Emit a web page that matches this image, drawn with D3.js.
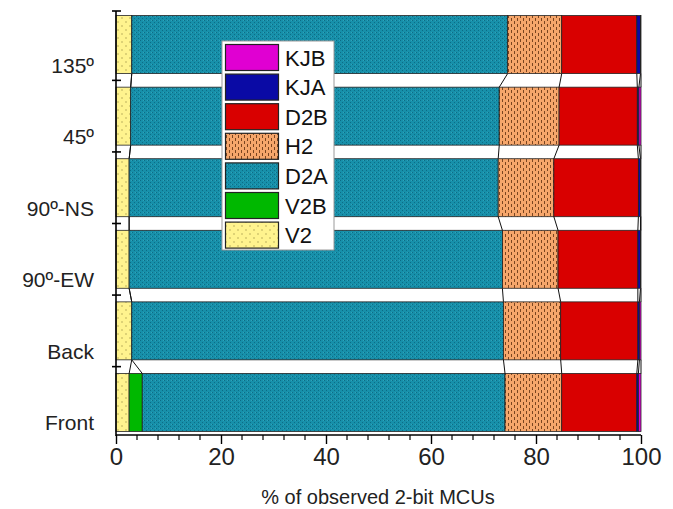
<!DOCTYPE html>
<html><head><meta charset="utf-8">
<script src="https://cdn.jsdelivr.net/npm/d3@7"></script>
<style>
body{margin:0;background:#fff}
svg{display:block;font-family:"Liberation Sans",Arial,Helvetica,sans-serif}
</style>
</head><body>
<svg id="chart" width="673" height="509"></svg>
<script>
// Share of observed 2-bit MCUs per irradiation orientation
const categories = ["135º", "45º", "90º-NS", "90º-EW", "Back", "Front"];
const seriesNames = ["V2", "V2B", "D2A", "H2", "D2B", "KJA", "KJB"];
const V2  = [3.0, 2.8, 2.5, 2.5, 3.0, 2.5];
const V2B = [0.0, 0.0, 0.0, 0.0, 0.0, 2.5];
const D2A = [71.6, 70.2, 70.3, 71.1, 70.8, 69.1];
const H2  = [10.3, 11.4, 10.6, 10.6, 10.9, 10.8];
const D2B = [14.3, 14.9, 16.1, 15.2, 14.7, 14.3];
const KJA = [0.7, 0.3, 0.4, 0.5, 0.3, 0.3];
const KJB = [0.1, 0.4, 0.1, 0.1, 0.3, 0.5];
const xTicks = [0, 20, 40, 60, 80, 100];
const xTitle = "% of observed 2-bit MCUs";

const valuesBySeries = {V2, V2B, D2A, H2, D2B, KJA, KJB};
const rows = categories.map((c, i) => {
  const r = {category: c};
  seriesNames.forEach(s => r[s] = valuesBySeries[s][i]);
  return r;
});

const svg = d3.select("#chart");
const defs = svg.append("defs");

// fill patterns
function pattern(id, w, h, bg, draw) {
  const p = defs.append("pattern").attr("id", id).attr("patternUnits", "userSpaceOnUse")
    .attr("width", w).attr("height", h);
  p.append("rect").attr("width", w).attr("height", h).attr("fill", bg);
  draw(p);
}
pattern("pV2", 8, 8, "#fff38e", p => {
  p.append("circle").attr("cx", 2).attr("cy", 2).attr("r", 0.8).attr("fill", "#b5a857");
  p.append("circle").attr("cx", 6).attr("cy", 6).attr("r", 0.8).attr("fill", "#b5a857");
});
pattern("pD2A", 4, 4, "#1790aa", p => {
  p.append("rect").attr("x", 0).attr("y", 0).attr("width", 1).attr("height", 1).attr("fill", "#0c6d86");
  p.append("rect").attr("x", 2).attr("y", 2).attr("width", 1).attr("height", 1).attr("fill", "#0c6d86");
  p.append("rect").attr("x", 3).attr("y", 0).attr("width", 1).attr("height", 1).attr("fill", "#2fa2b9");
});
pattern("pH2", 6, 6, "#f6a66b", p => {
  p.append("rect").attr("x", 1).attr("y", 0).attr("width", 1).attr("height", 3).attr("fill", "#7a4520");
  p.append("rect").attr("x", 4).attr("y", 3).attr("width", 1).attr("height", 3).attr("fill", "#7a4520");
});

const fills = {
  V2: "url(#pV2)", V2B: "#00b800", D2A: "url(#pD2A)", H2: "url(#pH2)",
  D2B: "#d90000", KJA: "#0a0aa5", KJB: "#e000d2"
};

const x = d3.scaleLinear().domain([0, 100]).range([116, 641]);
const y = d3.scaleBand().domain(categories).range([7, 440]).paddingInner(0.19).paddingOuter(0.12);
const axisY0 = 11, axisY1 = 435;

const stacked = d3.stack().keys(seriesNames)(rows);

// connectors between neighbouring bars at each cumulative boundary
const conn = svg.append("g").attr("stroke", "#111").attr("stroke-width", 1).attr("fill", "none");
for (let i = 0; i < categories.length - 1; i++) {
  const yTop = y(categories[i]) + y.bandwidth();
  const yBot = y(categories[i + 1]);
  stacked.forEach(layer => {
    conn.append("line")
      .attr("x1", x(layer[i][1])).attr("y1", yTop)
      .attr("x2", x(layer[i + 1][1])).attr("y2", yBot);
  });
}

// bar segments
const bars = svg.append("g");
stacked.forEach(layer => {
  bars.selectAll(null).data(layer).join("rect")
    .attr("x", d => x(d[0]))
    .attr("y", d => y(d.data.category))
    .attr("width", d => Math.max(0, x(d[1]) - x(d[0])))
    .attr("height", y.bandwidth())
    .attr("fill", fills[layer.key])
    .attr("stroke", "#222").attr("stroke-width", 0.8);
});

// y axis line with ticks between categories
const axG = svg.append("g").attr("stroke", "#000").attr("stroke-width", 1.6);
axG.append("line").attr("x1", 116).attr("x2", 116).attr("y1", axisY0).attr("y2", axisY1 + 1);
const step = y.step();
const yTickPos = [axisY0].concat(categories.slice(1).map(c => y(c) - (step - y.bandwidth()) / 2));
yTickPos.forEach(t => axG.append("line").attr("x1", 112).attr("x2", 121).attr("y1", t).attr("y2", t));

// category labels
svg.append("g").selectAll("text").data(categories).join("text")
  .attr("x", 94).attr("y", d => y(d) + y.bandwidth() - 1)
  .attr("text-anchor", "end").attr("font-size", 21).attr("fill", "#222")
  .text(d => d);

// x axis
const xAxis = d3.axisBottom(x).tickValues(xTicks).tickSize(9).tickPadding(4).tickFormat(d3.format("d"));
const gx = svg.append("g").attr("transform", `translate(0,${axisY1})`).call(xAxis);
gx.select(".domain").attr("stroke-width", 1.6).attr("d", `M116,0H641`);
gx.selectAll(".tick line").attr("stroke-width", 1.4);
gx.selectAll(".tick text").attr("font-size", 24).attr("fill", "#222")
  .attr("font-family", "Liberation Sans, Arial, sans-serif");
const minor = d3.range(0, 101, 4).filter(v => v % 20 !== 0);
gx.selectAll(".minor").data(minor).join("line").attr("class", "minor")
  .attr("x1", d => x(d)).attr("x2", d => x(d)).attr("y1", 0).attr("y2", 5)
  .attr("stroke", "#000").attr("stroke-width", 1.2);

svg.append("text").attr("x", 378).attr("y", 504).attr("text-anchor", "middle")
  .attr("font-size", 20).attr("fill", "#222").text(xTitle);

// legend
const legendOrder = seriesNames.slice().reverse();
const lg = svg.append("g");
lg.append("rect").attr("x", 222).attr("y", 41).attr("width", 112).attr("height", 209)
  .attr("fill", "#fff").attr("stroke", "#9a9a9a").attr("stroke-width", 1);
legendOrder.forEach((s, i) => {
  const top = 44.5 + i * 29.6;
  lg.append("rect").attr("x", 225.5).attr("y", top).attr("width", 53).attr("height", 26)
    .attr("fill", fills[s]).attr("stroke", "#222").attr("stroke-width", 1.2);
  lg.append("text").attr("x", 285).attr("y", top + 21).attr("font-size", 22).attr("fill", "#111").text(s);
});
</script>
</body></html>
